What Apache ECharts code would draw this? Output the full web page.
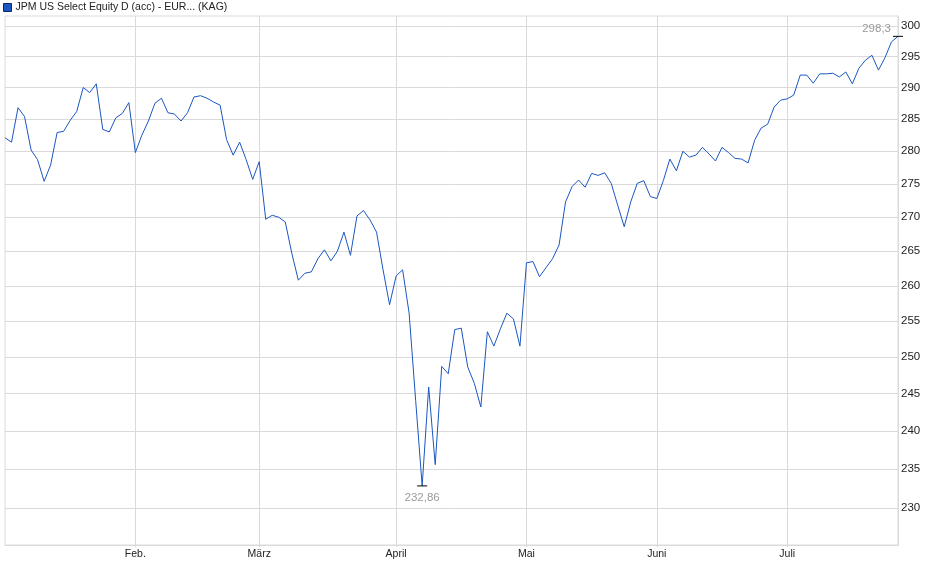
<!DOCTYPE html>
<html>
<head>
<meta charset="utf-8">
<script src="https://cdn.jsdelivr.net/npm/echarts@6/dist/echarts.min.js"></script>
<style>
  html, body { margin: 0; padding: 0; background: #fff; }
  #chart { width: 940px; height: 579px; }
</style>
</head>
<body>
<div id="chart"></div>
<script>
var seriesName = 'JPM US Select Equity D (acc) - EUR... (KAG)';

// trading days: weekdays from 2 Jan to 25 Jul 2025 without these closing days
var firstDay = '2025-01-02';
var lastDay = '2025-07-25';
var closedDays = ['2025-01-09', '2025-01-20', '2025-02-17', '2025-04-18', '2025-04-21',
                  '2025-05-01', '2025-05-26', '2025-06-19', '2025-07-04'];

var prices = [
    282.1, 281.4, 286.8, 285.4, 280.2, 278.7, 275.4, 277.9, 282.9, 283.1,
    284.8, 286.2, 290.0, 289.2, 290.6, 283.4, 283.0, 285.2, 285.9, 287.6,
    279.8, 282.5, 284.7, 287.5, 288.3, 286.0, 285.8, 284.7, 286.0, 288.5,
    288.7, 288.3, 287.7, 287.2, 281.8, 279.4, 281.4, 278.7, 275.7, 278.4,
    269.7, 270.3, 270.0, 269.3, 264.7, 260.8, 261.8, 262.0, 263.9, 265.2,
    263.6, 265.0, 267.8, 264.4, 270.2, 271.0, 269.6, 267.8, 262.3, 257.3,
    261.4, 262.3, 256.1, 244.1, 232.86, 245.9, 235.6, 248.7, 247.7, 253.8,
    254.0, 248.6, 246.4, 243.2, 253.5, 251.5, 253.9, 256.1, 255.3, 251.5,
    263.3, 263.5, 261.3, 262.6, 263.9, 265.9, 272.3, 274.6, 275.6, 274.5,
    276.6, 276.3, 276.7, 275.1, 271.8, 268.6, 272.3, 275.1, 275.5, 273.1,
    272.8, 275.5, 278.8, 277.0, 280.0, 279.1, 279.4, 280.6, 279.6, 278.5,
    280.6, 279.8, 278.9, 278.8, 278.2, 281.7, 283.6, 284.2, 286.9, 288.0,
    288.2, 288.8, 292.0, 292.0, 290.7, 292.2, 292.2, 292.3, 291.7, 292.5,
    290.6, 293.1, 294.4, 295.2, 292.8, 294.8, 297.4, 298.3
];

var yTicks = [230, 235, 240, 245, 250, 255, 260, 265, 270, 275, 280, 285, 290, 295, 300];
var monthLabels = { '02': 'Feb.', '03': 'März', '04': 'April', '05': 'Mai', '06': 'Juni', '07': 'Juli' };

var dates = [];
var d = new Date(firstDay + 'T00:00:00Z');
var end = new Date(lastDay + 'T00:00:00Z');
while (d <= end) {
    var s = d.toISOString().slice(0, 10);
    var wd = d.getUTCDay();
    if (wd !== 0 && wd !== 6 && closedDays.indexOf(s) < 0) {
        dates.push(s);
    }
    d.setUTCDate(d.getUTCDate() + 1);
}

function isMonthStart(i) {
    return i > 0 && dates[i].slice(5, 7) !== dates[i - 1].slice(5, 7);
}

function deNum(v) {
    return String(v).replace('.', ',');
}

var gridColor = '#dadada';

option = {
    animation: false,
    textStyle: { fontFamily: 'Liberation Sans, Arial, sans-serif' },
    legend: {
        left: 3,
        top: 2,
        padding: 0,
        itemWidth: 8,
        itemHeight: 8,
        icon: 'rect',
        selectedMode: false,
        itemStyle: { borderColor: '#0b2a6b', borderWidth: 1 },
        textStyle: { fontSize: 10.5, color: '#222', padding: [1, 0, 0, -1] },
        data: [seriesName]
    },
    grid: {
        left: 5,
        right: 42,
        top: 16,
        bottom: 34,
        show: true,
        borderColor: gridColor,
        borderWidth: 1
    },
    xAxis: {
        type: 'category',
        boundaryGap: false,
        data: dates,
        axisLine: { lineStyle: { color: gridColor } },
        axisTick: {
            length: 2,
            interval: function (i) { return isMonthStart(i); },
            lineStyle: { color: gridColor }
        },
        axisLabel: {
            interval: function (i) { return isMonthStart(i); },
            formatter: function (v) { return monthLabels[v.slice(5, 7)] || ''; },
            color: '#222',
            fontSize: 10.5,
            margin: 4
        },
        splitLine: {
            show: true,
            interval: function (i) { return isMonthStart(i); },
            lineStyle: { color: gridColor }
        }
    },
    yAxis: {
        type: 'log',
        position: 'right',
        min: 225.4,
        max: 301.66,
        axisLine: { show: true, lineStyle: { color: gridColor } },
        axisTick: { show: false, customValues: yTicks },
        axisLabel: {
            customValues: yTicks,
            color: '#222',
            fontSize: 11.5,
            margin: 3
        },
        splitLine: { show: true, lineStyle: { color: gridColor } }
    },
    series: [{
        name: seriesName,
        type: 'line',
        data: prices,
        showSymbol: false,
        color: '#1b56c2',
        lineStyle: { width: 1, color: '#1b56c2' },
        markPoint: {
            symbol: 'rect',
            symbolSize: [10, 1],
            itemStyle: { color: '#000' },
            label: { color: '#9a9a9a', fontSize: 11.5 },
            data: [
                {
                    type: 'max',
                    label: { position: 'left', distance: 2, offset: [0, -8], formatter: function (p) { return deNum(p.value); } }
                },
                {
                    type: 'min',
                    label: { position: 'bottom', distance: 5, formatter: function (p) { return deNum(p.value); } }
                }
            ]
        }
    }]
};

var myChart = echarts.init(document.getElementById('chart'));
myChart.setOption(option, true);
</script>
</body>
</html>
